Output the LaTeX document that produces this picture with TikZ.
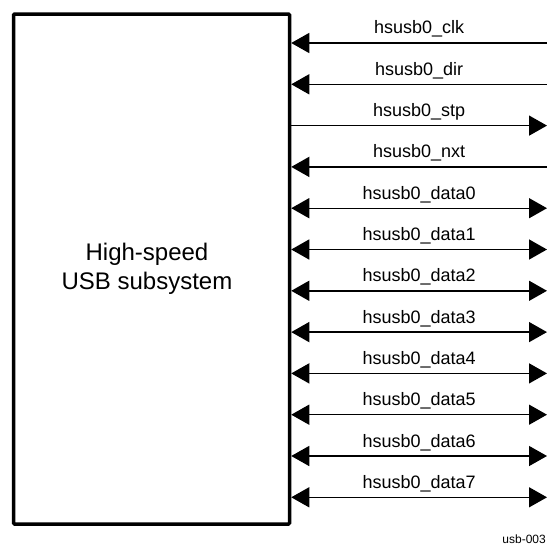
\documentclass[tikz,border=0pt]{standalone}
\usepackage{fontspec}
\setmainfont{Liberation Sans}
\usetikzlibrary{arrows.meta}
\tikzset{
  sig/.style={line width=1.4pt},
  inarrow/.style={sig,-{Triangle[length=18pt,width=20pt]}},
  outarrow/.style={sig,-{Triangle[length=18pt,width=20pt]}},
  biarrow/.style={sig,{Triangle[length=18pt,width=20pt]}-{Triangle[length=18pt,width=20pt]}},
  siglabel/.style={font=\fontsize{18}{21}\selectfont, anchor=base, inner sep=0pt},
  blockbox/.style={draw, line width=3.5pt, rounded corners=1pt, minimum width=276pt, minimum height=510pt, inner sep=0pt},
}
\begin{document}
\begin{tikzpicture}[x=1pt,y=-1pt]
\useasboundingbox (0,0) rectangle (547,546);
\node[blockbox] (box) at (151.5,269) {};
\node[font=\fontsize{24}{29}\selectfont, align=center] (boxtext) at (147,269) {High-speed\\USB subsystem};
\foreach \i in {0,...,11}{
  \coordinate (r\i) at (547,{43+41.3*\i});
  \coordinate (l\i) at (r\i -| box.east);
}
\draw[inarrow] (r0) -- (l0) node[siglabel, midway, yshift=9pt] (t0) {hsusb0\_clk};
\draw[inarrow] (r1) -- (l1) node[siglabel, midway, yshift=9pt] (t1) {hsusb0\_dir};
\draw[outarrow] (l2) -- (r2) node[siglabel, midway, yshift=9pt] (t2) {hsusb0\_stp};
\draw[inarrow] (r3) -- (l3) node[siglabel, midway, yshift=9pt] (t3) {hsusb0\_nxt};
\foreach \i/\n in {4/0,5/1,6/2,7/3,8/4,9/5,10/6,11/7}{
  \draw[biarrow] (l\i) -- (r\i) node[siglabel, midway, yshift=9pt] (t\i) {hsusb0\_data\n};
}
\node[font=\fontsize{12}{14}\selectfont, anchor=base east, inner sep=0pt] (fig) at (546,543) {usb-003};
\end{tikzpicture}
\end{document}
